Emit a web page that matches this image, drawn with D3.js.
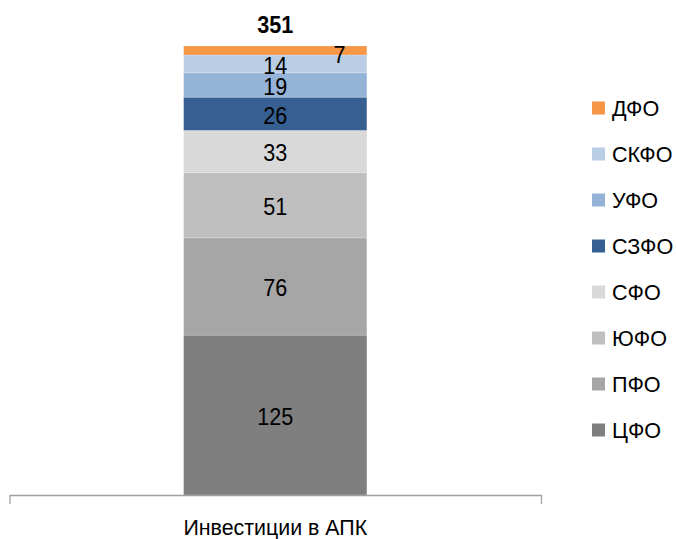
<!DOCTYPE html>
<html>
<head>
<meta charset="utf-8">
<script src="https://cdn.jsdelivr.net/npm/d3@7"></script>
<style>
  html, body { margin: 0; padding: 0; background: #fff; }
  text { font-family: "Liberation Sans", Arial, sans-serif; fill: #000; }
</style>
</head>
<body>
<svg id="chart" width="676" height="539"></svg>
<script>
// Investment in agriculture by federal district (stacked, bottom to top)
const categories = ["Инвестиции в АПК"];
const districts = ["ЦФО", "ПФО", "ЮФО", "СФО", "СЗФО", "УФО", "СКФО", "ДФО"];
const values    = [125, 76, 51, 33, 26, 19, 14, 7];
const colors    = ["#7f7f7f", "#a6a6a6", "#bfbfbf", "#d9d9d9", "#376092", "#95b3d7", "#b9cde5", "#f79646"];
const legendOrder = ["ДФО", "СКФО", "УФО", "СЗФО", "СФО", "ЮФО", "ПФО", "ЦФО"];

const svg = d3.select("#chart");

const total = d3.sum(values);

const x = d3.scaleBand().domain(categories).range([9.5, 541]).paddingInner(0).paddingOuter(0.95);
const y = d3.scaleLinear().domain([0, total]).range([495, 46]);

// stacked segments
const row = {};
districts.forEach((d, i) => row[d] = values[i]);
const series = d3.stack().keys(districts)([row]);
const colorOf = d3.scaleOrdinal().domain(districts).range(colors);

const barX = x(categories[0]);
const barW = x.bandwidth();

svg.append("g").selectAll("rect")
  .data(series)
  .join("rect")
  .attr("x", barX)
  .attr("width", barW)
  .attr("y", s => y(s[0][1]))
  .attr("height", s => y(s[0][0]) - y(s[0][1]))
  .attr("fill", s => colorOf(s.key))
  .attr("stroke", "#ffffff")
  .attr("stroke-opacity", 0.35)
  .attr("stroke-width", 0.6);

// text helper with a slight horizontal squeeze (condensed look)
function label(g, tx, ty, str, size, weight, anchor, squeeze) {
  const t = g.append("g").attr("transform", `translate(${tx},${ty}) scale(${squeeze || 0.94},1)`);
  t.append("text")
    .attr("text-anchor", anchor || "middle")
    .attr("dominant-baseline", "central")
    .attr("font-size", size)
    .attr("font-weight", weight || "normal")
    .text(str);
}

// segment value labels
const labels = svg.append("g");
series.forEach(s => {
  const v = s[0][1] - s[0][0];
  const mid = (y(s[0][0]) + y(s[0][1])) / 2;
  if (s.key === "ДФО") {
    label(labels, barX + barW * 0.85, mid + 5, v, 23);
  } else {
    label(labels, barX + barW / 2, mid + 2, v, 23);
  }
});

// total above the bar
label(labels, barX + barW / 2, y(total) - 21, total, 23, "bold");

// category axis
const axis = d3.axisBottom(x).tickSizeInner(0).tickSizeOuter(9).tickPadding(0).tickFormat(() => "");
const ax = svg.append("g").attr("transform", "translate(0,495)").call(axis);
ax.select(".domain").attr("stroke", "#a0a0a0").attr("stroke-width", 1.3);
categories.forEach(c => label(svg, x(c) + x.bandwidth() / 2, 527, c, 23, "normal", "middle", 0.93));

// legend
const lg = svg.append("g");
legendOrder.forEach((k, i) => {
  const cy = 108 + i * 46;
  lg.append("rect").attr("x", 592).attr("y", cy - 6.5).attr("width", 13).attr("height", 13).attr("fill", colorOf(k));
  label(lg, 612, cy, k, 22, "normal", "start", 0.98);
});
</script>
</body>
</html>
